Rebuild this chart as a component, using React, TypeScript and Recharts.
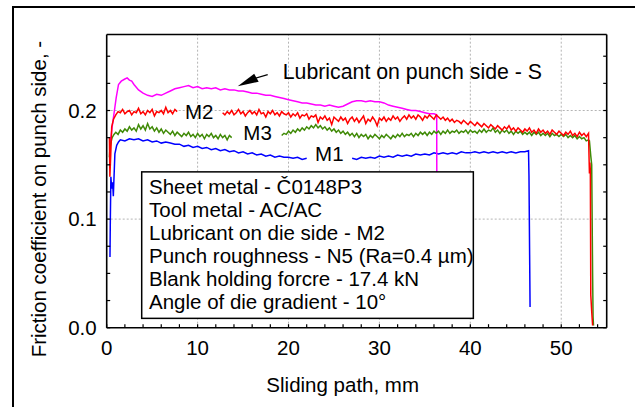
import React from 'react';
import { LineChart, Line, XAxis, YAxis, ReferenceLine, ReferenceArea, ReferenceDot } from 'recharts';

const FONT = '"Liberation Sans", Arial, Helvetica, sans-serif';

// ---- axes ----
const X_DOMAIN = [0, 55];
const Y_DOMAIN = [0, 0.27];
const X_TICKS_BOTTOM = [0, 2, 4, 6, 8, 10, 12, 14, 16, 18, 20, 22, 24, 26, 28, 30, 32, 34, 36, 38, 40, 42, 44, 46, 48, 50, 52, 54];
const X_TICKS_TOP = [0, 1, 2, 3, 4, 5, 6, 7, 8, 9, 10, 11, 12, 13, 14, 15, 16, 17, 18, 19, 20, 21, 22, 23, 24, 25, 26, 27, 28, 29, 30, 31, 32, 33, 34, 35, 36, 37, 38, 39, 40, 41, 42, 43, 44, 45, 46, 47, 48, 49, 50, 51, 52, 53, 54, 55];
const X_LABELED = [0, 10, 20, 30, 40, 50];
const Y_TICKS = [0, 0.025, 0.05, 0.075, 0.1, 0.125, 0.15, 0.175, 0.2, 0.225, 0.25];
const Y_LABELED = [0, 0.1, 0.2];
const X_GRID = [10, 20, 30, 40, 50];
const Y_GRID = [0.1, 0.2];

// ---- series: [sliding path mm, friction coefficient] ----
const S_PUNCH: [number, number | null][] = [
  [0.36, 0.167], [0.6, 0.185], [0.9, 0.203], [1.05, 0.212], [1.3, 0.224], [1.6, 0.227],
  [2.0, 0.229], [2.25, 0.230], [2.5, 0.228], [2.75, 0.227], [3.0, 0.224], [3.5, 0.219], [4.0, 0.216], [4.5, 0.214],
  [5.0, 0.213], [5.5, 0.215], [6.0, 0.214], [6.5, 0.216], [7.0, 0.218], [7.5, 0.220],
  [8.0, 0.221], [8.5, 0.222], [9.0, 0.223], [9.5, 0.221], [10.0, 0.222], [10.5, 0.220],
  [11.0, 0.221], [11.5, 0.220], [12.0, 0.221], [12.5, 0.219], [13.0, 0.220], [13.5, 0.219],
  [14.0, 0.219], [14.5, 0.218], [15.0, 0.218], [15.5, 0.217], [16.0, 0.216], [16.5, 0.216],
  [17.0, 0.215], [17.5, 0.214], [18.0, 0.214], [18.5, 0.213], [19.0, 0.212], [19.5, 0.211],
  [20.0, 0.210], [20.5, 0.209], [21.0, 0.208], [21.5, 0.207], [22.0, 0.207], [22.5, 0.206],
  [23.0, 0.205], [23.5, 0.205], [24.0, 0.204], [24.5, 0.205], [25.0, 0.204], [25.5, 0.203],
  [26.0, 0.204], [26.5, 0.206], [27.0, 0.208], [27.5, 0.209], [28.0, 0.209], [28.5, 0.208],
  [29.0, 0.209], [29.5, 0.208], [30.0, 0.208], [30.5, 0.207], [31.0, 0.205], [31.5, 0.204],
  [32.0, 0.203], [32.5, 0.202], [33.0, 0.201], [33.5, 0.200], [34.0, 0.200], [34.5, 0.199],
  [35.0, 0.198], [35.5, 0.197], [36.0, 0.197], [36.3, 0.196], [36.33, 0.05],
];

const M2: [number, number | null][] = [
  [0.3, 0.175], [0.35, 0.139], [0.45, 0.16], [0.55, 0.185], [0.75, 0.192],
  [1.0, 0.196], [1.25, 0.199], [1.5, 0.198], [1.75, 0.201], [2.0, 0.197], [2.25, 0.199],
  [2.5, 0.200], [2.75, 0.196], [3.0, 0.199], [3.25, 0.198], [3.5, 0.202], [3.75, 0.197],
  [4.0, 0.199], [4.25, 0.196], [4.5, 0.200], [4.75, 0.198], [5.0, 0.201], [5.25, 0.195],
  [5.5, 0.199], [5.75, 0.198], [6.0, 0.200], [6.25, 0.197], [6.5, 0.203], [6.75, 0.198],
  [7.0, 0.200], [7.25, 0.197], [7.5, 0.201], [7.75, 0.199], [10.0, null],
  [12.75, 0.198], [13.0, 0.196], [13.25, 0.199], [13.5, 0.197], [13.75, 0.200], [14.0, 0.196],
  [14.25, 0.198], [14.5, 0.201], [14.75, 0.197], [15.0, 0.199], [15.25, 0.195], [15.5, 0.198],
  [15.75, 0.200], [16.0, 0.197], [16.25, 0.199], [16.5, 0.196], [16.75, 0.201], [17.0, 0.197],
  [17.25, 0.198], [17.5, 0.194], [17.75, 0.199], [18.0, 0.197], [18.25, 0.200], [18.5, 0.196],
  [18.75, 0.198], [19.0, 0.195], [19.25, 0.199], [19.5, 0.197], [19.75, 0.196], [20.0, 0.198],
  [20.25, 0.194], [20.5, 0.197], [20.75, 0.195], [21.0, 0.198], [21.25, 0.193], [21.5, 0.196],
  [21.75, 0.195], [22.0, 0.197], [22.25, 0.192], [22.5, 0.195], [22.75, 0.194], [23.0, 0.196],
  [23.25, 0.189], [23.5, 0.194], [23.75, 0.192], [24.0, 0.195], [24.25, 0.191], [24.5, 0.193],
  [24.75, 0.187], [25.0, 0.194], [25.25, 0.192], [25.5, 0.190], [25.75, 0.194], [26.0, 0.191],
  [26.25, 0.193], [26.5, 0.188], [26.75, 0.192], [27.0, 0.194], [27.25, 0.190], [27.5, 0.193],
  [27.75, 0.189], [28.0, 0.192], [28.25, 0.195], [28.5, 0.188], [28.75, 0.192], [29.0, 0.190],
  [29.25, 0.194], [29.5, 0.191], [29.75, 0.186], [30.0, 0.193], [30.25, 0.191], [30.5, 0.194],
  [30.75, 0.190], [31.0, 0.193], [31.25, 0.191], [31.5, 0.195], [31.75, 0.192], [32.0, 0.194],
  [32.25, 0.190], [32.5, 0.193], [32.75, 0.195], [33.0, 0.192], [33.25, 0.196], [33.5, 0.193],
  [33.75, 0.195], [34.0, 0.192], [34.25, 0.196], [34.5, 0.194], [34.75, 0.191], [35.0, 0.195],
  [35.25, 0.193], [35.5, 0.196], [35.75, 0.194], [36.0, 0.192], [36.25, 0.196], [36.5, 0.194],
  [36.75, 0.192], [37.0, 0.194], [37.25, 0.191], [37.5, 0.193], [37.75, 0.190], [38.0, 0.192],
  [38.25, 0.189], [38.5, 0.191], [38.75, 0.190], [39.0, 0.188], [39.25, 0.191], [39.5, 0.189],
  [39.75, 0.187], [40.0, 0.190], [40.25, 0.188], [40.5, 0.186], [40.75, 0.189], [41.0, 0.187],
  [41.25, 0.185], [41.5, 0.188], [41.75, 0.186], [42.0, 0.184], [42.25, 0.187], [42.5, 0.185],
  [42.75, 0.183], [43.0, 0.186], [43.25, 0.184], [43.5, 0.182], [43.75, 0.185], [44.0, 0.183],
  [44.25, 0.186], [44.5, 0.182], [44.75, 0.184], [45.0, 0.181], [45.25, 0.184], [45.5, 0.182],
  [45.75, 0.180], [46.0, 0.183], [46.25, 0.181], [46.5, 0.184], [46.75, 0.180], [47.0, 0.182],
  [47.25, 0.179], [47.5, 0.183], [47.75, 0.180], [48.0, 0.182], [48.25, 0.179], [48.5, 0.181],
  [48.75, 0.178], [49.0, 0.182], [49.25, 0.180], [49.5, 0.178], [49.75, 0.181], [50.0, 0.179],
  [50.25, 0.177], [50.5, 0.180], [50.75, 0.178], [51.0, 0.181], [51.25, 0.177], [51.5, 0.179],
  [51.75, 0.176], [52.0, 0.180], [52.25, 0.177], [52.5, 0.179], [52.75, 0.176], [53.0, 0.179],
  [53.05, 0.160], [53.1, 0.142], [53.15, 0.152], [53.2, 0.145], [53.25, 0.030], [53.35, 0.015],
  [53.45, 0.002],
];

const M3: [number, number | null][] = [
  [0.3, 0.157], [0.35, 0.165], [0.45, 0.170], [0.6, 0.175], [0.8, 0.178],
  [1.0, 0.180], [1.25, 0.178], [1.5, 0.182], [1.75, 0.180], [2.0, 0.183], [2.25, 0.181],
  [2.5, 0.185], [2.75, 0.182], [3.0, 0.184], [3.25, 0.181], [3.5, 0.187], [3.75, 0.183],
  [4.0, 0.186], [4.25, 0.182], [4.5, 0.188], [4.75, 0.183], [5.0, 0.185], [5.25, 0.181],
  [5.5, 0.184], [5.75, 0.180], [6.0, 0.183], [6.25, 0.179], [6.5, 0.182], [6.75, 0.180],
  [7.0, 0.178], [7.25, 0.181], [7.5, 0.177], [7.75, 0.180], [8.0, 0.178], [8.25, 0.176],
  [8.5, 0.179], [8.75, 0.177], [9.0, 0.180], [9.25, 0.176], [9.5, 0.178], [9.75, 0.175],
  [10.0, 0.179], [10.25, 0.176], [10.5, 0.178], [10.75, 0.174], [11.0, 0.178], [11.25, 0.176],
  [11.5, 0.179], [11.75, 0.175], [12.0, 0.177], [12.25, 0.174], [12.5, 0.178], [12.75, 0.175],
  [13.0, 0.177], [13.25, 0.173], [13.5, 0.177], [13.75, 0.175], [16.5, null],
  [19.25, 0.177], [19.5, 0.179], [19.75, 0.178], [20.0, 0.181], [20.25, 0.179], [20.5, 0.182],
  [20.75, 0.180], [21.0, 0.183], [21.25, 0.181], [21.5, 0.184], [21.75, 0.182], [22.0, 0.185],
  [22.25, 0.183], [22.5, 0.186], [22.75, 0.184], [23.0, 0.187], [23.25, 0.184], [23.5, 0.186],
  [23.75, 0.183], [24.0, 0.185], [24.25, 0.182], [24.5, 0.184], [24.75, 0.181], [25.0, 0.183],
  [25.25, 0.180], [25.5, 0.182], [25.75, 0.179], [26.0, 0.181], [26.25, 0.178], [26.5, 0.180],
  [26.75, 0.177], [27.0, 0.179], [27.25, 0.176], [27.5, 0.179], [27.75, 0.175], [28.0, 0.178],
  [28.25, 0.176], [28.5, 0.178], [28.75, 0.174], [29.0, 0.177], [29.25, 0.175], [29.5, 0.178],
  [29.75, 0.176], [30.0, 0.174], [30.25, 0.177], [30.5, 0.175], [30.75, 0.178], [31.0, 0.176],
  [31.25, 0.174], [31.5, 0.177], [31.75, 0.175], [32.0, 0.178], [32.25, 0.176], [32.5, 0.179],
  [32.75, 0.176], [33.0, 0.178], [33.25, 0.177], [33.5, 0.179], [33.75, 0.176], [34.0, 0.179],
  [34.25, 0.177], [34.5, 0.180], [34.75, 0.178], [35.0, 0.180], [35.25, 0.177], [35.5, 0.180],
  [35.75, 0.178], [36.0, 0.181], [36.25, 0.179], [36.5, 0.181], [36.75, 0.178], [37.0, 0.181],
  [37.25, 0.179], [37.5, 0.182], [37.75, 0.179], [38.0, 0.181], [38.25, 0.180], [38.5, 0.182],
  [38.75, 0.179], [39.0, 0.181], [39.25, 0.180], [39.5, 0.182], [39.75, 0.179], [40.0, 0.182],
  [40.25, 0.180], [40.5, 0.181], [40.75, 0.179], [41.0, 0.182], [41.25, 0.180], [41.5, 0.183],
  [41.75, 0.180], [42.0, 0.182], [42.25, 0.181], [42.5, 0.184], [42.75, 0.180], [43.0, 0.182],
  [43.25, 0.179], [43.5, 0.182], [43.75, 0.180], [44.0, 0.182], [44.25, 0.179], [44.5, 0.181],
  [44.75, 0.178], [45.0, 0.181], [45.25, 0.179], [45.5, 0.181], [45.75, 0.178], [46.0, 0.180],
  [46.25, 0.178], [46.5, 0.180], [46.75, 0.177], [47.0, 0.180], [47.25, 0.178], [47.5, 0.180],
  [47.75, 0.177], [48.0, 0.179], [48.25, 0.177], [48.5, 0.179], [48.75, 0.176], [49.0, 0.179],
  [49.25, 0.177], [49.5, 0.178], [49.75, 0.176], [50.0, 0.178], [50.25, 0.176], [50.5, 0.178],
  [50.75, 0.175], [51.0, 0.177], [51.25, 0.175], [51.5, 0.177], [51.75, 0.174], [52.0, 0.176],
  [52.25, 0.174], [52.5, 0.175], [52.75, 0.172], [53.0, 0.173],
  [53.1, 0.172], [53.25, 0.158], [53.35, 0.150], [53.4, 0.100], [53.45, 0.050], [53.5, 0.010],
  [53.55, 0.002],
];

const M1: [number, number | null][] = [
  [0.36, 0.065], [0.40, 0.100], [0.46, 0.139], [0.55, 0.128], [0.65, 0.134], [0.73, 0.121],
  [0.78, 0.133], [0.9, 0.160], [1.1, 0.168], [1.3, 0.171],
  [1.5, 0.173], [2.0, 0.172], [2.5, 0.174], [3.0, 0.173], [3.5, 0.174], [4.0, 0.172],
  [4.5, 0.173], [5.0, 0.171], [5.5, 0.172], [6.0, 0.170], [6.5, 0.171], [7.0, 0.170],
  [7.5, 0.169], [8.0, 0.169], [8.5, 0.167], [9.0, 0.168], [9.5, 0.166], [10.0, 0.167],
  [10.5, 0.165], [11.0, 0.166], [11.5, 0.164], [12.0, 0.165], [12.5, 0.163], [13.0, 0.164],
  [13.5, 0.162], [14.0, 0.163], [14.5, 0.161], [15.0, 0.162], [15.5, 0.160], [16.0, 0.161],
  [16.5, 0.159], [17.0, 0.160], [17.5, 0.158], [18.0, 0.159], [18.5, 0.157], [19.0, 0.158],
  [19.5, 0.157], [20.0, 0.157], [20.5, 0.156], [21.0, 0.157], [21.5, 0.155], [22.0, 0.156],
  [24.5, null],
  [27.0, 0.156], [27.5, 0.155], [28.0, 0.157], [28.5, 0.156], [29.0, 0.157], [29.5, 0.156],
  [30.0, 0.158], [30.5, 0.157], [31.0, 0.158], [31.5, 0.157], [32.0, 0.159], [32.5, 0.158],
  [33.0, 0.159], [33.5, 0.158], [34.0, 0.160], [34.5, 0.159], [35.0, 0.160], [35.5, 0.159],
  [36.0, 0.161], [36.5, 0.160], [37.0, 0.161], [37.5, 0.160], [38.0, 0.161], [38.5, 0.160],
  [39.0, 0.162], [39.5, 0.161], [40.0, 0.161], [40.5, 0.162], [41.0, 0.161], [41.5, 0.162],
  [42.0, 0.161], [42.5, 0.162], [43.0, 0.161], [43.5, 0.162], [44.0, 0.161], [44.5, 0.162],
  [45.0, 0.161], [45.5, 0.162], [46.0, 0.162], [46.4, 0.163], [46.45, 0.140], [46.57, 0.019],
];

// ---- annotations (data coordinates) ----
const CURVE_LABELS = [
  { text: 'M2', x: 8.61, y: 0.1926 },
  { text: 'M3', x: 15.03, y: 0.1727 },
  { text: 'M1', x: 22.92, y: 0.1536 },
  { text: 'Lubricant on punch side - S', x: 19.36, y: 0.2294 },
];
const ARROW_TIP = { x: 14.41, y: 0.2224 };
const INFO_BOX = { x1: 3.85, x2: 40.33, y1: 0.0086, y2: 0.1435 };
const INFO_LINES = [
  'Sheet metal - Č0148P3',
  'Tool metal - AC/AC',
  'Lubricant on die side - M2',
  'Punch roughness - N5 (Ra=0.4 µm)',
  'Blank holding forcre - 17.4 kN',
  'Angle of die gradient - 10°',
];

const toRows = (arr: [number, number | null][]) => arr.map(([x, y]) => ({ x, y }));

const FS = 20.5;
const TICK_LEN = 3.5;

const BottomTick = (props: any) => {
  const { x, y, payload } = props;
  const v = payload.value;
  return (
    <g>
      <line x1={x} y1={y} x2={x} y2={y - TICK_LEN} stroke="#000" strokeWidth={1.2} />
      {X_LABELED.includes(v) && (
        <text x={x} y={y + 27} textAnchor="middle" fontSize={FS} fontFamily={FONT} fill="#000">
          {v}
        </text>
      )}
    </g>
  );
};

const TopTick = (props: any) => {
  const { x, y } = props;
  return <line x1={x} y1={y} x2={x} y2={y + TICK_LEN} stroke="#000" strokeWidth={1.2} />;
};

const LeftTick = (props: any) => {
  const { x, y, payload } = props;
  const v = payload.value;
  const labeled = Y_LABELED.some((t) => Math.abs(t - v) < 1e-9);
  return (
    <g>
      <line x1={x} y1={y} x2={x + TICK_LEN} y2={y} stroke="#000" strokeWidth={1.2} />
      {labeled && (
        <text x={x - 10} y={y + 7.3} textAnchor="end" fontSize={FS} fontFamily={FONT} fill="#000">
          {v.toFixed(1)}
        </text>
      )}
    </g>
  );
};

const RightTick = (props: any) => {
  const { x, y } = props;
  return <line x1={x} y1={y} x2={x - TICK_LEN} y2={y} stroke="#000" strokeWidth={1.2} />;
};

const XTitle = (props: any) => {
  const vb = props.viewBox;
  return (
    <text x={vb.x + vb.width / 2 - 14} y={vb.y + 64} textAnchor="middle" fontSize={FS} fontFamily={FONT} fill="#000">
      Sliding path, mm
    </text>
  );
};

const YTitle = (props: any) => {
  const vb = props.viewBox;
  const cx = vb.x + vb.width - 61;
  const cy = vb.y + vb.height / 2 + 18;
  return (
    <text x={cx} y={cy} transform={`rotate(-90, ${cx}, ${cy})`} textAnchor="middle" fontSize={FS} fontFamily={FONT} fill="#000">
      Friction coefficient on punch side, -
    </text>
  );
};

const InfoBox = (props: any) => {
  const { x, y, width, height } = props;
  return (
    <g>
      <rect x={x} y={y} width={width} height={height} fill="#fff" stroke="#000" strokeWidth={1.5} />
      {INFO_LINES.map((t, i) => (
        <text key={i} x={x + 7.3} y={y + 22.3 + i * 23.05} fontSize={FS} fontFamily={FONT} fill="#000">
          {t}
        </text>
      ))}
    </g>
  );
};

const Arrow = (props: any) => {
  const { cx, cy } = props;
  return (
    <g>
      <line x1={cx + 16} x2={cx + 30} y1={cy - 7.5} y2={cy - 11.5} stroke="#000" strokeWidth={1.3} />
      <polygon points={`${cx},${cy} ${cx + 16.5},${cy - 12.5} ${cx + 21},${cy - 4.5}`} fill="#000" />
    </g>
  );
};

export default function App() {
  return (
    <div style={{ position: 'absolute', left: 0, top: 0, width: 635, height: 407, background: '#fff' }}>
      <div
        style={{
          position: 'absolute',
          left: 12,
          top: 6,
          right: 0,
          bottom: 0,
          borderTop: '2px solid #000',
          borderLeft: '2px solid #000',
        }}
      />
      <div style={{ position: 'absolute', left: 0, top: 0 }}>
        <LineChart width={635} height={407} margin={{ top: 24.5, right: 18.3, bottom: 39.3, left: 46.7 }}>
          <XAxis
            xAxisId="b"
            dataKey="x"
            type="number"
            domain={X_DOMAIN}
            allowDataOverflow
            ticks={X_TICKS_BOTTOM}
            interval={0}
            height={40}
            tickSize={0}
            tickMargin={0}
            tick={<BottomTick />}
            tickLine={false}
            axisLine={{ stroke: '#000', strokeWidth: 1.6 }}
            label={<XTitle />}
          />
          <XAxis
            xAxisId="t"
            orientation="top"
            type="number"
            domain={X_DOMAIN}
            allowDataOverflow
            ticks={X_TICKS_TOP}
            interval={0}
            height={10}
            tickSize={0}
            tickMargin={0}
            tick={<TopTick />}
            tickLine={false}
            axisLine={{ stroke: '#000', strokeWidth: 1.6 }}
          />
          <YAxis
            yAxisId="l"
            type="number"
            domain={Y_DOMAIN}
            allowDataOverflow
            ticks={Y_TICKS}
            interval={0}
            width={60}
            tickSize={0}
            tickMargin={0}
            tick={<LeftTick />}
            tickLine={false}
            axisLine={{ stroke: '#000', strokeWidth: 1.6 }}
            label={<YTitle />}
          />
          <YAxis
            yAxisId="r"
            orientation="right"
            type="number"
            domain={Y_DOMAIN}
            allowDataOverflow
            ticks={Y_TICKS}
            interval={0}
            width={10}
            tickSize={0}
            tickMargin={0}
            tick={<RightTick />}
            tickLine={false}
            axisLine={{ stroke: '#000', strokeWidth: 1.6 }}
          />
          {X_GRID.map((v) => (
            <ReferenceLine key={'gx' + v} xAxisId="b" yAxisId="l" x={v} stroke="#b4b4b4" strokeDasharray="2 2" strokeWidth={1} />
          ))}
          {Y_GRID.map((v) => (
            <ReferenceLine key={'gy' + v} xAxisId="b" yAxisId="l" y={v} stroke="#b4b4b4" strokeDasharray="2 2" strokeWidth={1} />
          ))}
          <Line xAxisId="b" yAxisId="l" data={toRows(M1)} dataKey="y" stroke="#0000ff" strokeWidth={1.5} dot={false} isAnimationActive={false} connectNulls={false} />
          <Line xAxisId="b" yAxisId="l" data={toRows(S_PUNCH)} dataKey="y" stroke="#ff00ff" strokeWidth={1.5} dot={false} isAnimationActive={false} connectNulls={false} />
          <Line xAxisId="b" yAxisId="l" data={toRows(M3)} dataKey="y" stroke="#3f8a06" strokeWidth={1.5} dot={false} isAnimationActive={false} connectNulls={false} />
          <Line xAxisId="b" yAxisId="l" data={toRows(M2)} dataKey="y" stroke="#ff0000" strokeWidth={1.5} dot={false} isAnimationActive={false} connectNulls={false} />
          <ReferenceArea
            xAxisId="b"
            yAxisId="l"
            x1={INFO_BOX.x1}
            x2={INFO_BOX.x2}
            y1={INFO_BOX.y1}
            y2={INFO_BOX.y2}
            ifOverflow="visible"
            shape={<InfoBox />}
            {...({ zIndex: 1500 } as any)}
          />
          {CURVE_LABELS.map((l) => (
            <ReferenceDot
              key={l.text}
              xAxisId="b"
              yAxisId="l"
              x={l.x}
              y={l.y}
              r={0}
              ifOverflow="visible"
              shape={(p: any) => (
                <text x={p.cx} y={p.cy} fontSize={l.text.length > 3 ? 21.3 : FS} fontFamily={FONT} fill="#000">
                  {l.text}
                </text>
              )}
              {...({ zIndex: 1600 } as any)}
            />
          ))}
          <ReferenceDot
            xAxisId="b"
            yAxisId="l"
            x={ARROW_TIP.x}
            y={ARROW_TIP.y}
            r={0}
            ifOverflow="visible"
            shape={<Arrow />}
            {...({ zIndex: 1600 } as any)}
          />
        </LineChart>
      </div>
    </div>
  );
}
